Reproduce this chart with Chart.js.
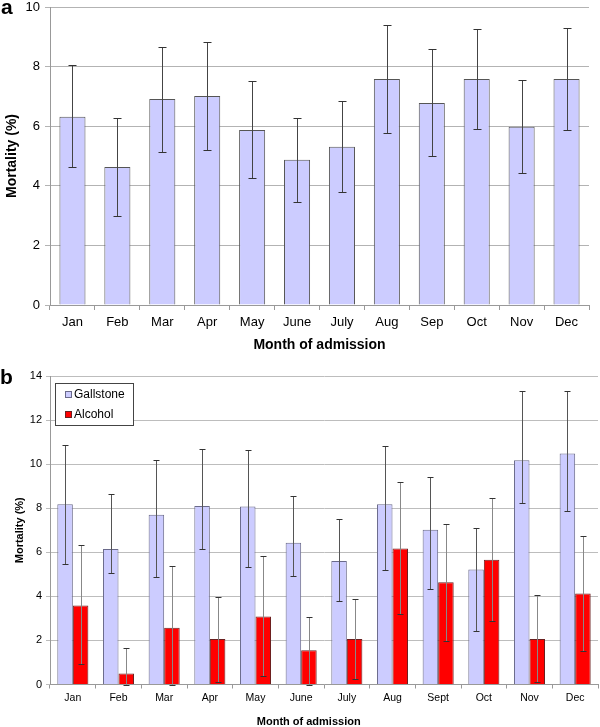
<!DOCTYPE html>
<html><head><meta charset="utf-8">
<script src="https://cdn.jsdelivr.net/npm/chart.js@4"></script>
<style>
html,body{margin:0;padding:0;background:#fff;width:600px;height:727px;overflow:hidden;position:relative;font-family:"Liberation Sans",Arial,sans-serif}
#ca{position:absolute;left:0;top:0}
#cb{position:absolute;left:0;top:365px}
.lbl{position:absolute;font-weight:bold;font-size:21px;line-height:1;color:#000}
</style></head><body>
<canvas id="ca" width="600" height="360"></canvas>
<canvas id="cb" width="600" height="365"></canvas>
<div class="lbl" style="left:1px;top:-4px">a</div>
<div class="lbl" style="left:0px;top:366px">b</div>
<script>
// ---- Panel a data ----
const monthsA = ['Jan','Feb','Mar','Apr','May','June','July','Aug','Sep','Oct','Nov','Dec'];
const mortalityA = [6.32, 4.63, 6.91, 7.01, 5.87, 4.87, 5.31, 7.58, 6.78, 7.58, 5.98, 7.58];
const lowA  = [4.62, 2.99, 5.12, 5.19, 4.26, 3.46, 3.80, 5.77, 5.00, 5.90, 4.43, 5.87];
const highA = [8.07, 6.28, 8.67, 8.84, 7.52, 6.28, 6.84, 9.40, 8.59, 9.27, 7.56, 9.28];
const yMaxA = 10, yStepA = 2;

// ---- Panel b data ----
const monthsB = ['Jan','Feb','Mar','Apr','May','June','July','Aug','Sept','Oct','Nov','Dec'];
const gallstone     = [8.18, 6.15, 7.70, 8.10, 8.08, 6.43, 5.61, 8.18, 7.02, 5.22, 10.18, 10.48];
const gallstoneLow  = [5.45, 5.04, 4.90, 6.17, 5.35, 4.93, 3.80, 5.18, 4.35, 2.42, 8.22, 7.88];
const gallstoneHigh = [10.85, 8.66, 10.17, 10.70, 10.64, 8.57, 7.53, 10.84, 9.41, 7.08, 13.31, 13.31];
const alcohol     = [3.59, 0.50, 2.57, 2.06, 3.09, 1.55, 2.06, 6.17, 4.64, 5.66, 2.06, 4.13];
const alcoholLow  = [0.91, 0.00, 0.00, 0.13, 0.37, 0.00, 0.25, 3.18, 1.97, 2.87, 0.11, 1.50];
const alcoholHigh = [6.34, 1.65, 5.36, 3.98, 5.81, 3.05, 3.88, 9.17, 7.29, 8.48, 4.04, 6.74];
const yMaxB = 14, yStepB = 2;

const FAMILY = '"Liberation Sans", Arial, sans-serif';
Chart.defaults.font.family = FAMILY;
Chart.defaults.color = '#000';

const errorBars = {
  id: 'errorBars',
  afterDatasetsDraw(chart) {
    const ctx = chart.ctx, ys = chart.scales.y;
    chart.data.datasets.forEach((ds, i) => {
      if (!ds.errLow) return;
      const meta = chart.getDatasetMeta(i);
      meta.data.forEach((bar, j) => {
        const x = Math.round(bar.x) + 0.5;
        const yl = Math.round(ys.getPixelForValue(ds.errLow[j])) + 0.5;
        const yh = Math.round(ys.getPixelForValue(ds.errHigh[j])) + 0.5;
        const c = ds.capWidth / 2;
        ctx.save();
        ctx.lineWidth = 1;
        ctx.strokeStyle = ds.errLineColor;
        ctx.beginPath(); ctx.moveTo(x, yh); ctx.lineTo(x, yl); ctx.stroke();
        ctx.strokeStyle = ds.errCapColor;
        ctx.beginPath();
        ctx.moveTo(x - c, yh); ctx.lineTo(x + c, yh);
        ctx.moveTo(x - c, yl); ctx.lineTo(x + c, yl);
        ctx.stroke();
        ctx.restore();
      });
    });
  }
};

const boxLegend = {
  id: 'boxLegend',
  afterDraw(chart, args, opts) {
    if (!opts || !opts.show) return;
    const ctx = chart.ctx, a = chart.chartArea;
    const x = Math.round(a.left + opts.dx), y = Math.round(a.top + opts.dy);
    ctx.save();
    ctx.fillStyle = '#fff';
    ctx.fillRect(x, y, opts.w, opts.h);
    ctx.strokeStyle = '#444'; ctx.lineWidth = 1;
    ctx.strokeRect(x + 0.5, y + 0.5, opts.w, opts.h);
    chart.data.datasets.forEach((ds, i) => {
      const cy = Math.round(y + opts.first + i * opts.gap);
      ctx.fillStyle = ds.backgroundColor;
      ctx.fillRect(x + 10, cy - 3, 7, 7);
      ctx.strokeStyle = ds.borderColor;
      ctx.strokeRect(x + 10.5, cy - 2.5, 6, 6);
      ctx.fillStyle = '#000';
      ctx.font = '12px ' + FAMILY;
      ctx.textBaseline = 'middle';
      ctx.fillText(ds.label, x + 19, cy + 1);
    });
    ctx.restore();
  }
};

new Chart(document.getElementById('ca'), {
  type: 'bar',
  data: {
    labels: monthsA,
    datasets: [{
      label: 'Mortality', data: mortalityA,
      backgroundColor: '#ccccff', borderColor: '#555', borderWidth: 1,
      categoryPercentage: 0.58, barPercentage: 1,
      errLow: lowA, errHigh: highA, capWidth: 8, errLineColor: '#444', errCapColor: '#333'
    }]
  },
  plugins: [errorBars],
  options: {
    responsive: false, animation: false,
    layout: { padding: { top: 7, right: 11, left: 0, bottom: 0 } },
    plugins: { legend: { display: false }, tooltip: { enabled: false } },
    scales: {
      x: {
        offset: true,
        grid: { display: true, drawOnChartArea: false, drawTicks: true, tickLength: 5, color: '#999', offset: true },
        border: { color: '#999' },
        ticks: { font: { size: 13 }, color: '#000', padding: 5, maxRotation: 0 },
        title: { display: true, text: 'Month of admission', font: { size: 14, weight: 'bold' }, color: '#000', padding: { top: 0, bottom: 6 } },
        afterFit: s => { s.height = 55; s.paddingLeft = 0; s.paddingRight = 0; }
      },
      y: {
        min: 0, max: yMaxA,
        ticks: { stepSize: yStepA, font: { size: 13 }, color: '#000', padding: 5 },
        grid: { color: '#b3b3b3', tickLength: 5 },
        border: { color: '#999' },
        title: { display: true, text: 'Mortality (%)', font: { size: 14, weight: 'bold' }, color: '#000', padding: { top: 4, bottom: 0 } },
        afterFit: s => { s.width = 50; s.paddingTop = 0; s.paddingBottom = 0; }
      }
    }
  }
});

new Chart(document.getElementById('cb'), {
  type: 'bar',
  data: {
    labels: monthsB,
    datasets: [{
      label: 'Gallstone', data: gallstone,
      backgroundColor: '#ccccff', borderColor: '#6a6a8a', borderWidth: 1,
      categoryPercentage: 0.68, barPercentage: 1,
      errLow: gallstoneLow, errHigh: gallstoneHigh, capWidth: 6, errLineColor: '#555', errCapColor: '#333'
    }, {
      label: 'Alcohol', data: alcohol,
      backgroundColor: '#ff0000', borderColor: '#6a2020', borderWidth: 1,
      categoryPercentage: 0.68, barPercentage: 1,
      errLow: alcoholLow, errHigh: alcoholHigh, capWidth: 6, errLineColor: '#888', errCapColor: '#333'
    }]
  },
  plugins: [errorBars, boxLegend],
  options: {
    responsive: false, animation: false,
    layout: { padding: { top: 11, right: 2, left: 0, bottom: 0 } },
    plugins: {
      legend: { display: false }, tooltip: { enabled: false },
      boxLegend: { show: true, dx: 5, dy: 7, w: 78, h: 42, first: 11, gap: 20 }
    },
    scales: {
      x: {
        offset: true,
        grid: { display: true, drawOnChartArea: false, drawTicks: true, tickLength: 4, color: '#999', offset: true },
        border: { color: '#999' },
        ticks: { font: { size: 10.5 }, color: '#000', padding: 3, maxRotation: 0 },
        title: { display: true, text: 'Month of admission\u00a0\u00a0\u00a0\u00a0\u00a0\u00a0\u00a0\u00a0\u00a0\u00a0', font: { size: 11, weight: 'bold' }, color: '#000', padding: { top: 0, bottom: 1 } },
        afterFit: s => { s.height = 45.5; s.paddingLeft = 0; s.paddingRight = 0; }
      },
      y: {
        min: 0, max: yMaxB,
        ticks: { stepSize: yStepB, font: { size: 11 }, color: '#000', padding: 4 },
        grid: { color: '#bdbdbd', tickLength: 4 },
        border: { color: '#999' },
        title: { display: true, text: 'Mortality (%)', font: { size: 11, weight: 'bold' }, color: '#000', padding: { top: 13, bottom: 0 } },
        afterFit: s => { s.width = 50; s.paddingTop = 0; s.paddingBottom = 0; }
      }
    }
  }
});
</script>
</body></html>
